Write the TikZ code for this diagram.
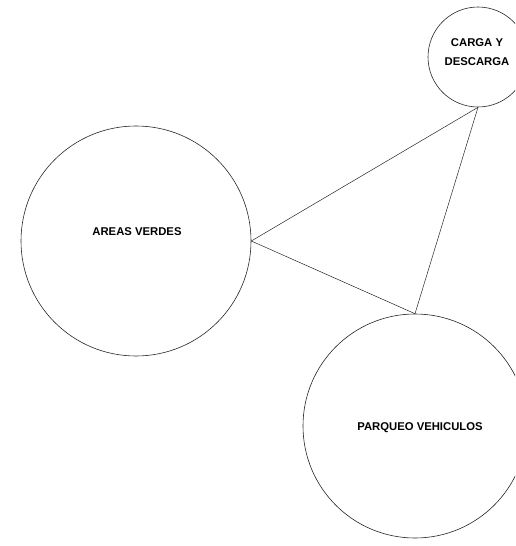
\documentclass[tikz,border=0pt]{standalone}
\usepackage{fontspec}
\setmainfont{Liberation Sans}
\begin{document}
\begin{tikzpicture}[x=1pt,y=-1pt,
  zone/.style={circle,draw=black!85,line width=0.6pt,inner sep=0pt},
  lbl/.style={font=\fontsize{11.3}{18.5}\selectfont\bfseries,align=center,inner sep=0pt},
  link/.style={draw=black!85,line width=0.5pt}]
\useasboundingbox (0,0) rectangle (515,546);
\clip (0,0) rectangle (515,546);
\node[zone,minimum size=100pt] (carga) at (478,57) {};
\node[zone,minimum size=230pt] (areas) at (136,241) {};
\node[zone,minimum size=224pt] (parqueo) at (415,426) {};
\node[lbl] (tcarga) at (477,52) {CARGA Y\\DESCARGA};
\node[lbl] (tareas) at (137,232) {AREAS VERDES};
\node[lbl] (tparqueo) at (420,428) {PARQUEO VEHICULOS};
\draw[link] (areas.east) -- (carga.south);
\draw[link] (areas.east) -- (parqueo.north);
\draw[link] (carga.south) -- (parqueo.north);
\end{tikzpicture}
\end{document}
